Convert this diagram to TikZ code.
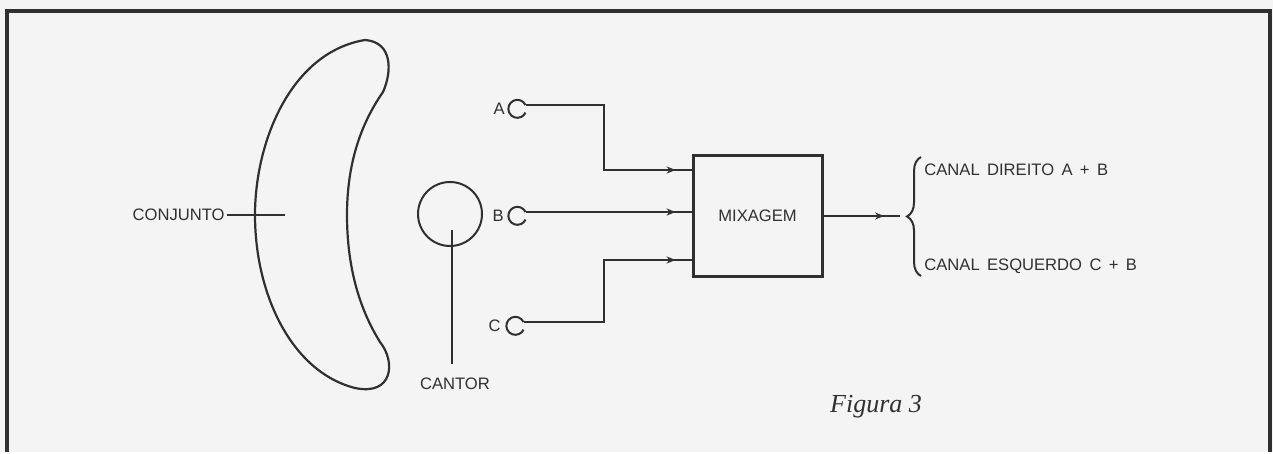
\documentclass[tikz,border=0pt]{standalone}
\usepackage{fontspec}
\setmainfont{Liberation Serif}
\newfontfamily\letreiro[WordSpace=1.6]{Liberation Sans}
\usetikzlibrary{arrows.meta,decorations.markings,decorations.pathreplacing}
\definecolor{tinta}{HTML}{303030}
\definecolor{papel}{HTML}{F4F4F4}

\begin{document}
\begin{tikzpicture}[
    x=0.5pt,
    y=-0.5pt,
    font=\letreiro\fontsize{8.3}{10}\selectfont,
    every node/.style={text=tinta},
    traco/.style={draw=tinta,line width=1.2pt},
    fio/.style={traco,postaction={decorate},
        decoration={markings,
            mark=at position -8pt with {\arrow{Stealth[length=4.5pt,width=3.6pt]}}}},
    tomada/.style={circle,minimum size=9pt,inner sep=0pt},
    rotulo/.style={anchor=east,inner sep=1pt},
    bloco/.style={draw=tinta,line width=1.5pt,minimum width=64.5pt,minimum height=60pt}
]
    \fill[papel] (0,0) rectangle (1273,452);
    \draw[tinta,line width=2pt] (7,452) -- (7,11) -- (1270,11) -- (1270,452);

    \draw[traco,line width=1.1pt] (383,92) .. controls (392,72) and (393,42) .. (365,40)
        .. controls (292,52) and (255,140) .. (255,215)
        .. controls (255,295) and (292,372) .. (355,388)
        .. controls (393,396) and (396,362) .. (380,342)
        .. controls (357,305) and (347,262) .. (347,215)
        .. controls (347,165) and (360,125) .. (383,92) -- cycle;
    \node[rotulo] (conj) at (227,215) {CONJUNTO};
    \coordinate (conjfim) at (285,215);
    \draw[traco,line width=1pt] (conj.east) -- (conjfim);

    \node[draw=tinta,line width=1pt,circle,minimum size=32pt] (cantor) at (450,214) {};
    \coordinate (cantorfio) at (452,230);
    \node (cantorlbl) at (455,384) {CANTOR};
    \draw[traco,line width=1pt] (cantorfio) -- ([yshift=3.5pt]cantorfio |- cantorlbl.north);

    \node[tomada] (jA) at (517,109) {};
    \node[tomada] (jB) at (517,216) {};
    \node[tomada] (jC) at (515,326) {};
    \node[rotulo] (lA) at (507,109) {A};
    \node[rotulo] (lB) at (506,216) {B};
    \node[rotulo] (lC) at (503,326) {C};
    \foreach \j in {jA,jB,jC}
        \draw[traco,line width=1pt] (\j.25) arc[start angle=25,end angle=335,radius=4.5pt];

    \node[bloco] (mix) at (757.5,216) {MIXAGEM};

    \coordinate (dobraA) at (604,170);
    \coordinate (dobraC) at (604,260);
    \draw[fio] (jA.25) -| (dobraA) -- (dobraA -| mix.west);
    \draw[fio] (jB.25) -- (jB.25 -| mix.west);
    \draw[fio] (jC.25) -| (dobraC) -- (dobraC -| mix.west);

    \coordinate (saida) at (900,216);
    \draw[fio] (mix.east) -- (saida);

    \coordinate (chB) at (921,276);
    \coordinate (chT) at (921,157);
    \draw[traco,line width=1pt,decorate,decoration={brace,amplitude=7pt}] (chB) -- (chT);
    \node[anchor=west,inner sep=1pt] (dir) at (922,170) {CANAL DIREITO A + B};
    \node[anchor=west,inner sep=1pt] (esq) at (922,266) {CANAL ESQUERDO C + B};

    \node[font=\rmfamily\itshape\fontsize{13}{15}\selectfont] (fig) at (876,407) {Figura 3};
\end{tikzpicture}
\end{document}
